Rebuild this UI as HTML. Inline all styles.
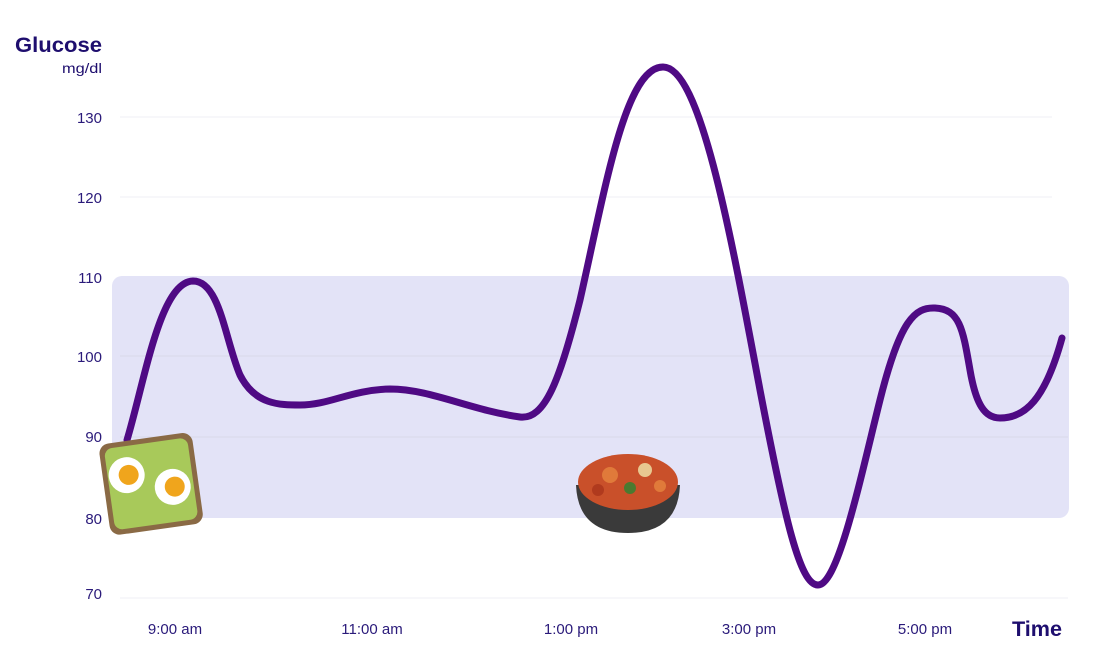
<!DOCTYPE html>
<html><head><style>
body{margin:0;background:#fff;}
svg{display:block;font-family:"Liberation Sans",sans-serif;}
</style></head><body>
<svg width="1100" height="666" viewBox="0 0 1100 666" xmlns="http://www.w3.org/2000/svg">
<rect x="112" y="276" width="957" height="242" rx="10" fill="#e3e3f7"/>
<g stroke="#d8d8ea" stroke-width="1">
<line x1="120" y1="117" x2="1052" y2="117" stroke="#efeff4"/>
<line x1="120" y1="197" x2="1052" y2="197" stroke="#efeff4"/>
<line x1="120" y1="356" x2="1068" y2="356"/>
<line x1="120" y1="437" x2="1068" y2="437"/>
<line x1="120" y1="598" x2="1068" y2="598" stroke="#efeff4"/>
</g>
<g fill="#2a1a7a" font-size="15" text-anchor="end">
<text x="102" y="123">130</text>
<text x="102" y="203">120</text>
<text x="102" y="283">110</text>
<text x="102" y="362">100</text>
<text x="102" y="442">90</text>
<text x="102" y="524">80</text>
<text x="102" y="599">70</text>
</g>
<text x="15" y="52" fill="#1e0e6e" font-size="21" font-weight="bold" textLength="87" lengthAdjust="spacingAndGlyphs">Glucose</text>
<text x="62" y="73" fill="#1e0e6e" font-size="14" textLength="40" lengthAdjust="spacingAndGlyphs">mg/dl</text>
<g fill="#2a1a7a" font-size="15" text-anchor="middle">
<text x="175" y="634">9:00 am</text>
<text x="372" y="634">11:00 am</text>
<text x="571" y="634">1:00 pm</text>
<text x="749" y="634">3:00 pm</text>
<text x="925" y="634">5:00 pm</text>
</g>
<text x="1012" y="636" fill="#1e0e6e" font-size="21" font-weight="bold" textLength="50" lengthAdjust="spacingAndGlyphs">Time</text>
<path d="M127,440 C145,380 160,282 193,281 C220,281 225,340 240,375 C255,405 280,405 300,405 C330,405 350,390 390,389 C430,389 470,410 520,417 C545,420 560,380 580,300 C605,190 625,67 663,67 C700,67 730,230 760,390 C785,520 800,585 818,585 C838,585 860,480 880,400 C900,320 915,307 935,308 C960,309 963,330 970,370 C976,405 985,418 1000,418 C1025,418 1045,400 1062,338" fill="none" stroke="#4f0a84" stroke-width="7" stroke-linecap="round"/>
<!-- toast -->
<g transform="rotate(-8 150 483)">
<rect x="104" y="438" width="94" height="92" rx="10" fill="#8a6a45"/>
<rect x="109" y="443" width="84" height="82" rx="8" fill="#a8c95a"/>
<circle cx="128" cy="472" r="18" fill="#fff"/><circle cx="130" cy="472" r="10" fill="#f0a51c"/>
<circle cx="172" cy="490" r="18" fill="#fff"/><circle cx="174" cy="490" r="10" fill="#f0a51c"/>
</g>
<!-- pasta bowl -->
<path d="M576,485 Q578,533 628,533 Q678,533 680,485 Z" fill="#3a3a3a"/>
<ellipse cx="628" cy="482" rx="50" ry="28" fill="#c9502a"/>
<circle cx="610" cy="475" r="8" fill="#e07a3a"/><circle cx="645" cy="470" r="7" fill="#e8c890"/>
<circle cx="630" cy="488" r="6" fill="#4a7a30"/><circle cx="598" cy="490" r="6" fill="#b03a1e"/>
<circle cx="660" cy="486" r="6" fill="#e07a3a"/>
</svg>
</body></html>
